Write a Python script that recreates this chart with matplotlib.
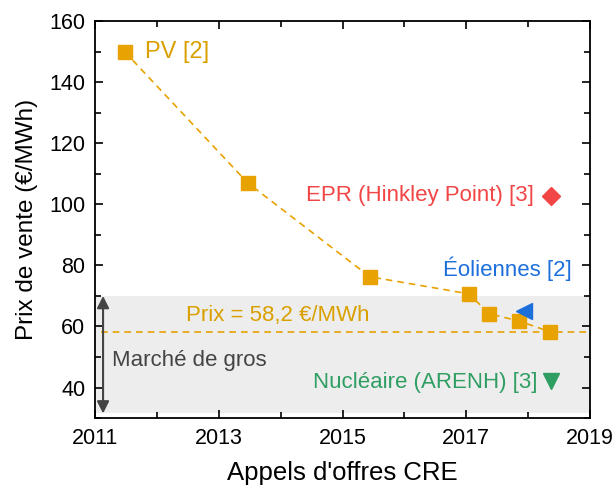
import matplotlib

matplotlib.use("Agg")
import matplotlib.pyplot as plt
from matplotlib.ticker import MultipleLocator

plt.rcParams["font.family"] = ["Liberation Sans", "DejaVu Sans"]

# PV tenders (CRE)
pv_years = [2011.48, 2013.47, 2015.44, 2017.04, 2017.37, 2017.85, 2018.35]
pv_prices = [150, 107, 76.3, 70.7, 64.2, 61.8, 58.3]

epr = (2018.37, 102.8)
wind = (2017.93, 65.2)
nuclear = (2018.37, 42)
market_price = 58.2
market_band = (31.5, 70)

x_ticks = [2011, 2013, 2015, 2017, 2019]
y_ticks = [40, 60, 80, 100, 120, 140, 160]

ORANGE = "#E8A202"
ORANGE_TXT = "#D9A000"
RED = "#F24545"
BLUE = "#1D6FDC"
GREEN = "#2E9E62"

fig = plt.figure(figsize=(6.13, 4.93), dpi=100)
ax = fig.add_axes([0.155, 0.152, 0.8075, 0.805])

ax.axhspan(*market_band, color="#EDEDED", zorder=0, lw=0)
ax.axhline(market_price, xmin=0.012, color=ORANGE, ls=(0, (4, 3)), lw=1.2, zorder=1)

ax.plot(pv_years, pv_prices, ls=(0, (4, 3)), color=ORANGE, lw=1.2, marker="s",
        ms=10, mfc=ORANGE, mec=ORANGE, zorder=3)
ax.plot(*epr, marker="D", ms=9, color=RED, ls="none", zorder=3)
ax.plot(*wind, marker="<", ms=11, color=BLUE, ls="none", zorder=3)
ax.plot(*nuclear, marker="v", ms=11, color=GREEN, ls="none", zorder=3)

ax.annotate("", xy=(2011.13, market_band[0]), xytext=(2011.13, market_band[1]),
            arrowprops=dict(arrowstyle="<|-|>", color="#444444", lw=1.5,
                            mutation_scale=18, shrinkA=0, shrinkB=0))

ax.text(2011.8, 150, "PV [2]", color=ORANGE_TXT, fontsize=17, va="center")
ax.text(2018.1, 102.8, "EPR (Hinkley Point) [3]", color=RED, fontsize=16,
        va="center", ha="right")
ax.text(2018.7, 79, "Éoliennes [2]", color=BLUE, fontsize=16, va="center", ha="right")
ax.text(2012.47, 63.6, "Prix = 58,2 €/MWh", color=ORANGE_TXT, fontsize=16, va="center")
ax.text(2011.27, 49, "Marché de gros", color="#444444", fontsize=16, va="center")
ax.text(2018.15, 41.6, "Nucléaire (ARENH) [3]", color=GREEN, fontsize=16,
        va="center", ha="right")

ax.set_xlim(2011, 2019)
ax.set_ylim(30, 160)
ax.set_xticks(x_ticks)
ax.set_yticks(y_ticks)
ax.xaxis.set_minor_locator(MultipleLocator(1))
ax.yaxis.set_minor_locator(MultipleLocator(10))
ax.tick_params(which="both", direction="in", top=True, right=True, width=1.2)
ax.tick_params(which="major", length=6, labelsize=15.5, pad=7)
ax.tick_params(which="minor", length=4)
for s in ax.spines.values():
    s.set_linewidth(1.3)

ax.set_xlabel("Appels d'offres CRE", fontsize=18.5, labelpad=9)
ax.set_ylabel("Prix de vente (€/MWh)", fontsize=17.5, labelpad=8)

fig.savefig("out.png", dpi=100)
plt.close(fig)
